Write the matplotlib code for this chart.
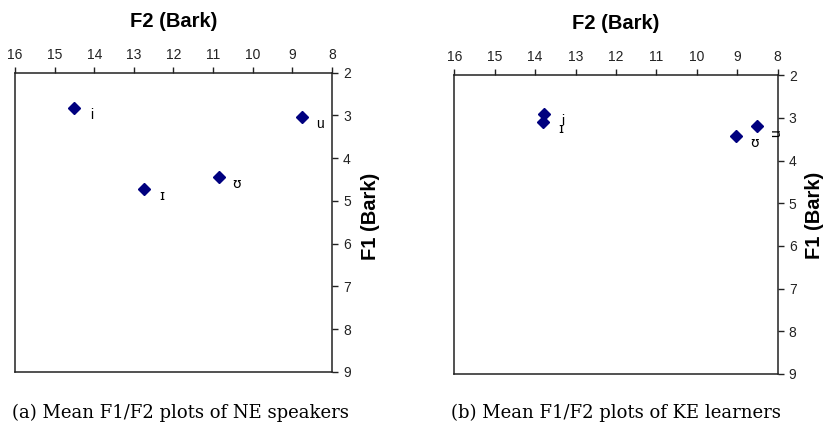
import matplotlib
matplotlib.use('Agg')
import matplotlib.pyplot as plt

# mean F1/F2 values (Bark)
vowels_ne = ['i', 'u', 'ɪ', 'ʊ']
f2_ne = [14.51, 8.75, 12.74, 10.85]
f1_ne = [2.82, 3.03, 4.72, 4.45]

vowels_ke = ['i', 'ɪ', 'ʊ', 'u']
f2_ke = [13.77, 13.80, 9.03, 8.52]
f1_ke = [2.91, 3.09, 3.43, 3.19]
rot_ke = [0, 0, 0, 90]

captions = ['(a) Mean F1/F2 plots of NE speakers', '(b) Mean F1/F2 plots of KE learners']

plt.rcParams['font.family'] = ['Liberation Sans', 'DejaVu Sans']

fig = plt.figure(figsize=(8.23, 4.28), dpi=100)


def vowel_plot(ax, f2, f1, names, rots, ylab_xy):
    ax.plot(f2, f1, 'D', color='#00007f', markersize=6.5, linestyle='none', clip_on=False)
    for x, y, n, r in zip(f2, f1, names, rots):
        dx, dy = (19, -7) if r else (18, -7)
        ax.annotate(n, (x, y), xytext=(dx, dy), textcoords='offset pixels',
                    ha='center', va='center', fontsize=10, rotation=r,
                    family=['DejaVu Sans'] if n in 'ɪʊ' else None)
    ax.set_xlim(16, 8)
    ax.set_ylim(9, 2)
    ax.xaxis.tick_top()
    ax.yaxis.tick_right()
    ax.set_xticks(range(8, 17))
    ax.set_yticks(range(2, 10))
    ax.tick_params(direction='out', length=4, width=1, labelsize=10, colors='#222222', pad=4)
    for s in ax.spines.values():
        s.set_linewidth(1.1)
        s.set_color('#222222')
    ax.set_title('F2 (Bark)', fontsize=14.5, fontweight='bold', pad=33)
    ax.set_ylabel('F1 (Bark)', fontsize=14.5, fontweight='bold')
    ax.yaxis.set_label_position('right')
    ax.yaxis.set_label_coords(*ylab_xy)


ax1 = fig.add_axes([0.0182, 0.1315, 0.3852, 0.6986])
vowel_plot(ax1, f2_ne, f1_ne, vowels_ne, [0, 0, 0, 0], (1.09, 0.52))

ax2 = fig.add_axes([0.552, 0.1262, 0.393, 0.6978])
vowel_plot(ax2, f2_ke, f1_ke, vowels_ke, rot_ke, (1.085, 0.53))

fig.text(12 / 823, 1 - 413 / 428, captions[0], family='DejaVu Serif', fontsize=13, va='center')
fig.text(451 / 823, 1 - 413 / 428, captions[1], family='DejaVu Serif', fontsize=13, va='center')

fig.savefig('out.png', dpi=100)
